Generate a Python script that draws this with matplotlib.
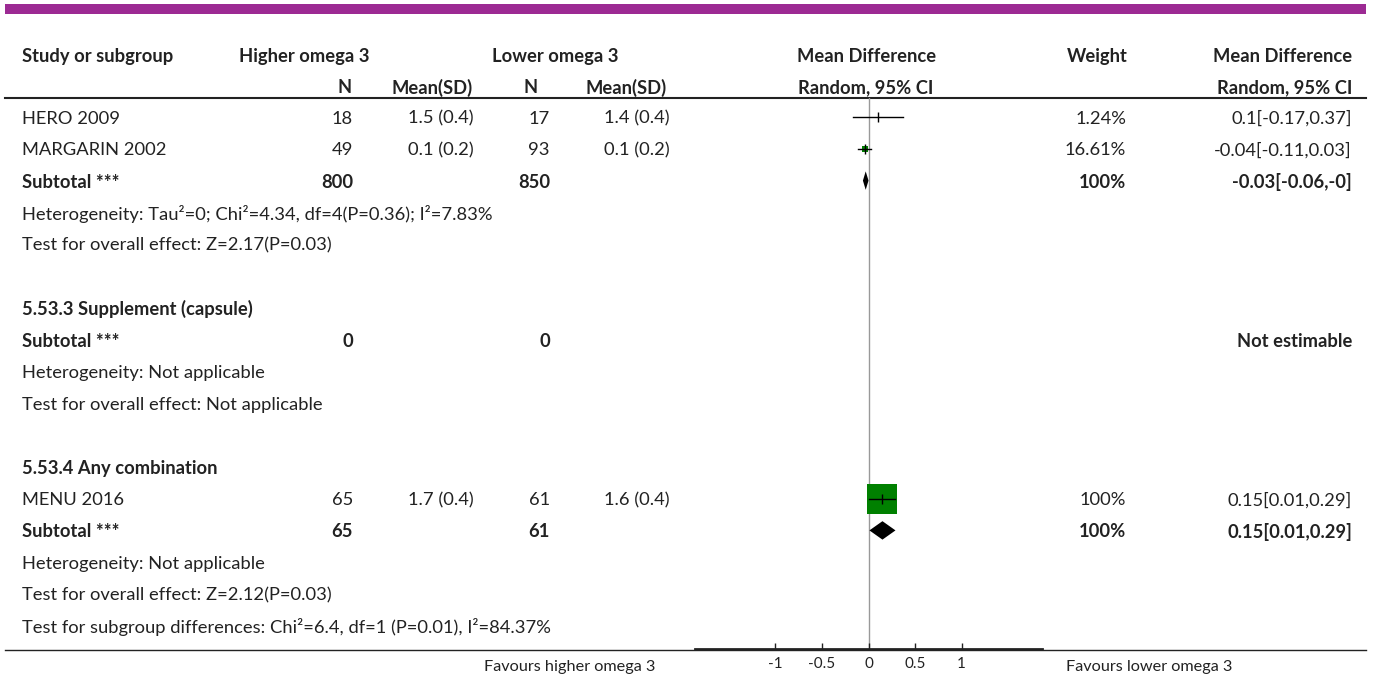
import matplotlib
matplotlib.use("Agg")
import matplotlib.pyplot as plt
from matplotlib.patches import Rectangle

# dados dos estudos
studies = ["HERO 2009", "MARGARIN 2002", "MENU 2016"]
study_rows = [0, 1, 12]
n_high = ["18", "49", "65"]
mean_high = ["1.5 (0.4)", "0.1 (0.2)", "1.7 (0.4)"]
n_low = ["17", "93", "61"]
mean_low = ["1.4 (0.4)", "0.1 (0.2)", "1.6 (0.4)"]
md = [0.1, -0.04, 0.15]
ci_lo = [-0.17, -0.11, 0.01]
ci_hi = [0.37, 0.03, 0.29]
weights = [1.24, 16.61, 100.0]
weight_txt = ["1.24%", "16.61%", "100%"]
ci_txt = ["0.1[-0.17,0.37]", "-0.04[-0.11,0.03]", "0.15[0.01,0.29]"]

# subtotais
sub_rows = [2, 7, 13]
sub_n_high = ["800", "0", "65"]
sub_n_low = ["850", "0", "61"]
sub_weight = ["100%", "", "100%"]
sub_ci_txt = ["-0.03[-0.06,-0]", "Not estimable", "0.15[0.01,0.29]"]
diamond_rows = [2, 13]
diamond_est = [-0.03, 0.15]
diamond_lo = [-0.06, 0.01]
diamond_hi = [0.0, 0.29]

# outras linhas de texto (linha, texto, negrito)
other_lines = [
    (3, "Heterogeneity: Tau²=0; Chi²=4.34, df=4(P=0.36); I²=7.83%", False),
    (4, "Test for overall effect: Z=2.17(P=0.03)", False),
    (6, "5.53.3 Supplement (capsule)", True),
    (8, "Heterogeneity: Not applicable", False),
    (9, "Test for overall effect: Not applicable", False),
    (11, "5.53.4 Any combination", True),
    (14, "Heterogeneity: Not applicable", False),
    (15, "Test for overall effect: Z=2.12(P=0.03)", False),
    (16, "Test for subgroup differences: Chi²=6.4, df=1 (P=0.01), I²=84.37%", False),
]

tick_vals = [-1, -0.5, 0, 0.5, 1]
tick_labels = ["-1", "-0.5", "0", "0.5", "1"]

plt.rcParams["font.family"] = ["Lato", "DejaVu Sans"]
FS = 13.2
TXT = "#222222"
GREEN = "#008000"

W, H = 1375, 682
ROW0, ROWH = 117, 31.8


def row_y(r):
    return ROW0 + r * ROWH


fig = plt.figure(figsize=(W / 100, H / 100), dpi=100)
bg = fig.add_axes([0, 0, 1, 1])
bg.set_xlim(0, W)
bg.set_ylim(H, 0)
bg.axis("off")

# faixa roxa no topo
bg.add_patch(Rectangle((5, 3.5), 1361, 10, color="#9c2a93", lw=0))

# linhas horizontais
bg.plot([5, 1366], [98, 98], color=TXT, lw=1.5)
bg.plot([5, 1366], [649.5, 649.5], color=TXT, lw=1.0)


def txt(x, y, s, ha="left", bold=False, size=FS):
    # pequeno ajuste vertical da fonte
    bg.text(x, y + 1.5, s, ha=ha, va="center", fontsize=size, color=TXT,
            fontweight="bold" if bold else "normal")


# cabecalho
col_n1, col_m1, col_n2, col_m2 = 353, 474, 550, 670
col_w, col_ci = 1126, 1352
txt(22, 55, "Study or subgroup", bold=True)
txt(304, 55, "Higher omega 3", ha="center", bold=True)
txt(555, 55, "Lower omega 3", ha="center", bold=True)
txt(867, 55, "Mean Difference", ha="center", bold=True)
txt(1128, 55, "Weight", ha="right", bold=True)
txt(col_ci, 55, "Mean Difference", ha="right", bold=True)
txt(352, 86, "N", ha="right", bold=True)
txt(473, 86, "Mean(SD)", ha="right", bold=True)
txt(538, 86, "N", ha="right", bold=True)
txt(667, 86, "Mean(SD)", ha="right", bold=True)
txt(866, 86, "Random, 95% CI", ha="center", bold=True)
txt(col_ci, 86, "Random, 95% CI", ha="right", bold=True)

for i, r in enumerate(study_rows):
    y = row_y(r)
    txt(22, y, studies[i])
    txt(col_n1, y, n_high[i], ha="right")
    txt(col_m1, y, mean_high[i], ha="right")
    txt(col_n2, y, n_low[i], ha="right")
    txt(col_m2, y, mean_low[i], ha="right")
    txt(col_w, y, weight_txt[i], ha="right")
    txt(col_ci, y, ci_txt[i], ha="right")

for i, r in enumerate(sub_rows):
    y = row_y(r)
    txt(22, y, "Subtotal ***", bold=True)
    txt(col_n1, y, sub_n_high[i], ha="right", bold=True)
    txt(col_n2, y, sub_n_low[i], ha="right", bold=True)
    txt(col_w, y, sub_weight[i], ha="right", bold=True)
    txt(col_ci, y, sub_ci_txt[i], ha="right", bold=True)

for r, s, b in other_lines:
    txt(22, row_y(r), s, bold=b)

txt(655, 666, "Favours higher omega 3", ha="right", size=11.7)
txt(1066, 666, "Favours lower omega 3", size=11.7)

# grafico de floresta
y_top = (98 - ROW0) / ROWH
y_bot = (649 - ROW0) / ROWH
fa = fig.add_axes([695 / W, (H - 649) / H, (1042 - 695) / W, (649 - 98) / H])
fa.patch.set_alpha(0)
fa.set_xlim(-1.865, 1.865)
fa.set_ylim(y_bot, y_top)
for s in ["top", "left", "right"]:
    fa.spines[s].set_visible(False)
fa.spines["bottom"].set_linewidth(2)
fa.spines["bottom"].set_color(TXT)
fa.set_yticks([])
fa.set_xticks(tick_vals)
fa.set_xticklabels(tick_labels)
fa.tick_params(axis="x", direction="in", length=4, width=1, pad=6,
               labelsize=11, colors=TXT)

fa.axvline(0, color="#999999", lw=1, zorder=1)

for i, r in enumerate(study_rows):
    side = weights[i] / 100 * 22.3
    if side > 0.6:
        fa.plot(md[i], r, marker="s", ms=side, color=GREEN, mew=0, zorder=2)
    fa.plot([ci_lo[i], ci_hi[i]], [r, r], color="black", lw=1, zorder=3)
    fa.plot(md[i], r, marker="|", ms=6.5, color="black", mew=1, zorder=3)

for i, r in enumerate(diamond_rows):
    h = 0.29
    fa.fill([diamond_lo[i], diamond_est[i], diamond_hi[i], diamond_est[i]],
            [r, r - h, r, r + h], color="black", lw=0, zorder=3)

fig.savefig("out.png", dpi=100)
